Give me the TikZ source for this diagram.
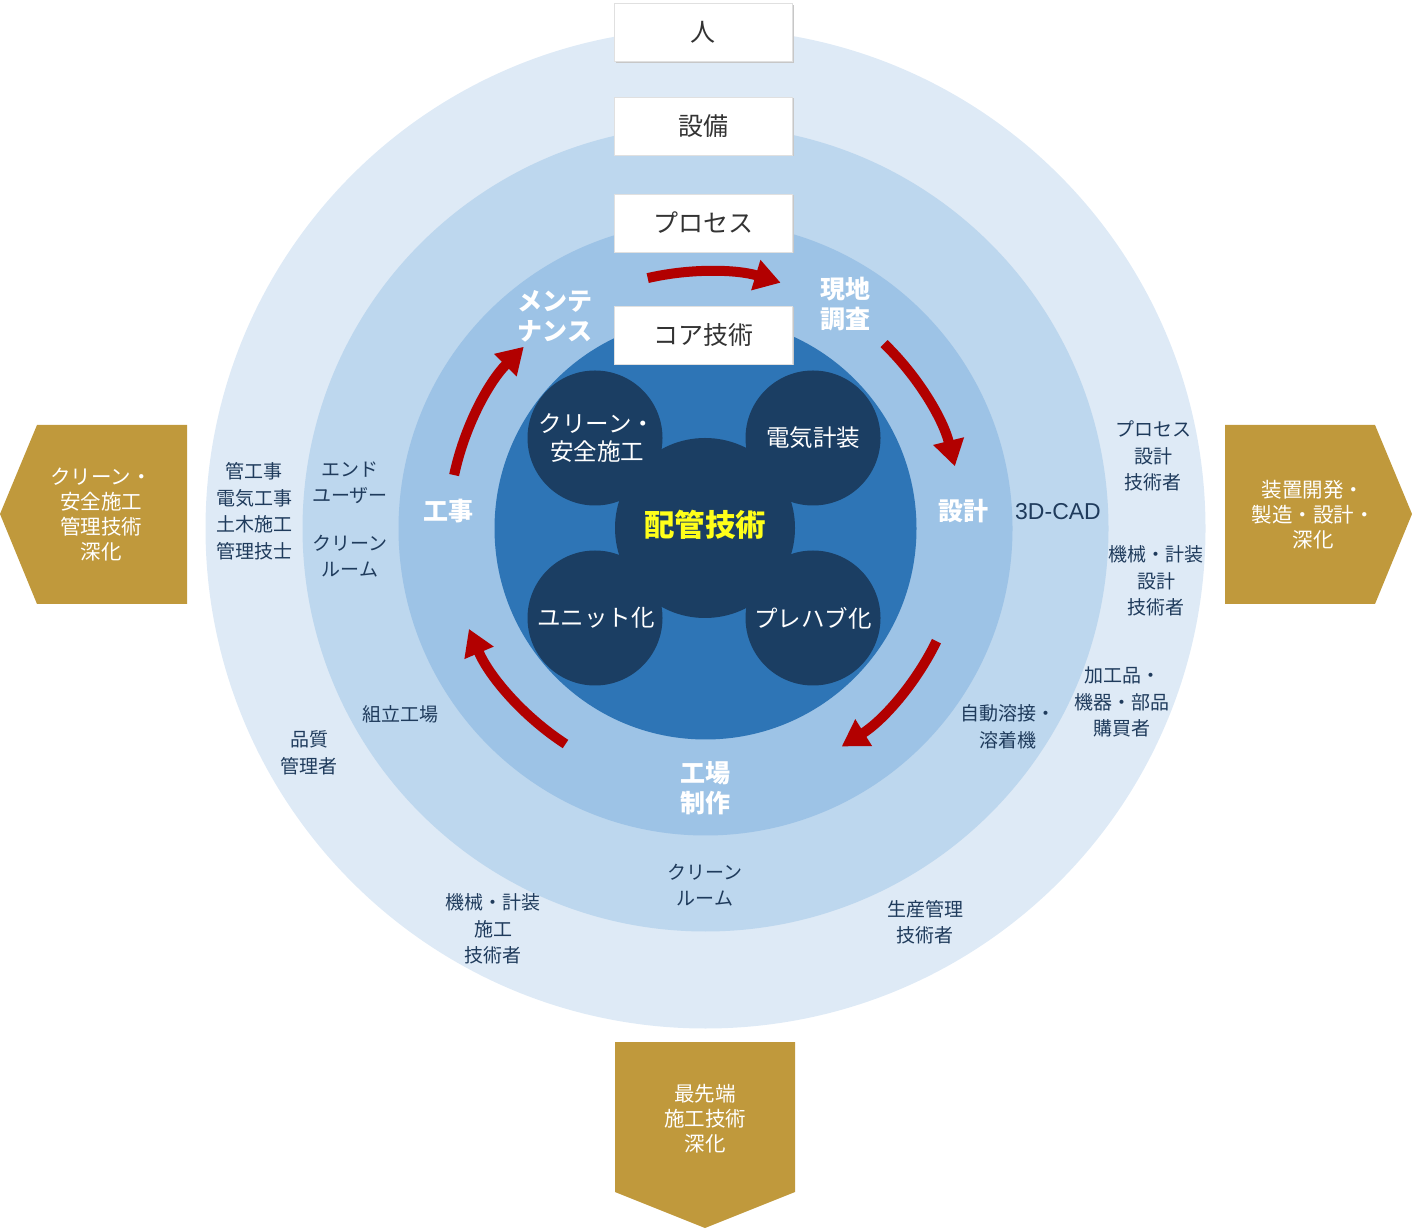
\documentclass[tikz,border=0pt]{standalone}
\usepackage{fontspec}
\setmainfont{Noto Sans CJK JP}
\newfontfamily\cadfont{Liberation Sans}
\usetikzlibrary{arrows.meta}
\definecolor{ringA}{HTML}{DEEAF6}
\definecolor{ringB}{HTML}{BDD7EE}
\definecolor{ringC}{HTML}{9DC3E6}
\definecolor{ringD}{HTML}{2E75B6}
\definecolor{navy}{HTML}{1B3E63}
\definecolor{labc}{HTML}{1F3B5C}
\definecolor{gold}{HTML}{C0993C}
\definecolor{arrred}{HTML}{B20000}
\definecolor{boxtext}{HTML}{333333}
\definecolor{hiyel}{HTML}{FFFF1A}
\begin{document}
\begin{tikzpicture}[x=1pt,y=1pt,
  lab/.style={align=center,text=labc,inner sep=0pt,font=\fontsize{19}{26.5}\selectfont},
  inlab/.style={align=center,text=white,inner sep=0pt,font=\fontsize{25}{30}\selectfont\bfseries},
  bloblab/.style={align=center,text=white,inner sep=0pt,font=\fontsize{23.5}{28}\selectfont},
  goldlab/.style={align=center,text=white,inner sep=0pt,font=\fontsize{20.5}{25}\selectfont},
  wbox/.style={fill=white,draw=black!12,line width=0.8pt,minimum width=178pt,minimum height=58pt,inner sep=0pt,text=boxtext,font=\fontsize{25}{28}\selectfont},
  wshadow/.style={fill=black!22,minimum width=178pt,minimum height=58pt,inner sep=0pt},
  redarr/.style={draw=arrred,line width=10pt,-{Triangle[length=26pt,width=30pt]}}
]
\useasboundingbox (0,0) rectangle (1412,1229);
\coordinate (c) at (705.5,700.5);
% rings
\fill[ringA] (c) circle[radius=500pt];
\fill[ringB] (c) circle[radius=403pt];
\fill[ringC] (c) circle[radius=307pt];
\fill[ringD] (c) circle[radius=211pt];
% navy blobs
\fill[navy] (595,791) circle[radius=67.5pt];
\fill[navy] (813,791) circle[radius=67.5pt];
\fill[navy] (595,611) circle[radius=67.5pt];
\fill[navy] (813,611) circle[radius=67.5pt];
\fill[navy] (705,701) circle[radius=90pt];
% white boxes with soft shadow
\node[wshadow] (s1) at (704.5,1195) {};
\node[wshadow] (s2) at (704.5,1101.5) {};
\node[wshadow] (s3) at (704.5,1004.5) {};
\node[wshadow] (s4) at (704.5,892.5) {};
\node[wbox] (hito) at (703,1196.5) {人};
\node[wbox] (setsubi) at (703,1103) {設備};
\node[wbox] (process) at (703,1006) {プロセス};
\node[wbox] (core) at (703,894) {コア技術};
% red cycle arrows
\draw[redarr] (c) ++(103:257pt) arc[start angle=103,end angle=73,radius=257pt];
\draw[redarr] (c) ++(46:257pt) arc[start angle=46,end angle=14,radius=257pt];
\draw[redarr] (c) ++(-26:257pt) arc[start angle=-26,end angle=-58,radius=257pt];
\draw[redarr] (c) ++(-123:257pt) arc[start angle=-123,end angle=-157,radius=257pt];
\draw[redarr] (c) ++(168:257pt) arc[start angle=168,end angle=135,radius=257pt];
% inner labels
\node[inlab] (genchi) at (845,925) {現地\\調査};
\node[inlab] (sekkei) at (963,718) {設計};
\node[inlab] (kojo) at (705,441) {工場\\制作};
\node[inlab] (koji) at (448,718) {工事};
\node[inlab] (maint) at (555,913) {メンテ\\ナンス};
% blob labels
\node[bloblab] (b1) at (597,791) {クリーン・\\安全施工};
\node[bloblab] (b2) at (813,791) {電気計装};
\node[bloblab] (b3) at (596,611) {ユニット化};
\node[bloblab] (b4) at (813,611) {プレハブ化};
\node[align=center,text=hiyel,inner sep=0pt,font=\fontsize{30.5}{34}\selectfont\bfseries] (haikan) at (705,704) {配管技術};
% second ring labels
\node[lab,font=\fontsize{23}{26}\cadfont] (cad) at (1058,717) {3D-CAD};
\node[lab] (jido) at (1008,502) {自動溶接・\\溶着機};
\node[lab] (cr2) at (705,344) {クリーン\\ルーム};
\node[lab] (kumi) at (400,515) {組立工場};
\node[lab] (end) at (350,746) {エンド\\ユーザー};
\node[lab] (cr1) at (350,673) {クリーン\\ルーム};
% outer ring labels
\node[lab] (o1) at (1153,773) {プロセス\\設計\\技術者};
\node[lab] (o2) at (1156,648) {機械・計装\\設計\\技術者};
\node[lab] (o3) at (1122,527) {加工品・\\機器・部品\\購買者};
\node[lab] (o4) at (925,307) {生産管理\\技術者};
\node[lab] (o5) at (493,300) {機械・計装\\施工\\技術者};
\node[lab] (o6) at (309,476) {品質\\管理者};
\node[lab] (o7) at (254,718) {管工事\\電気工事\\土木施工\\管理技士};
% gold shapes
\fill[gold] (0,715) -- (37,804) -- (187,804) -- (187,625) -- (37,625) -- cycle;
\fill[gold] (1225,804) -- (1375,804) -- (1412,715) -- (1375,625) -- (1225,625) -- cycle;
\fill[gold] (615,187) -- (795,187) -- (795,37) -- (705,1) -- (615,37) -- cycle;
\node[goldlab] (g1) at (101,714.5) {クリーン・\\安全施工\\管理技術\\深化};
\node[goldlab] (g2) at (1313,714) {装置開発・\\製造・設計・\\深化};
\node[goldlab] (g3) at (705,110) {最先端\\施工技術\\深化};
\end{tikzpicture}
\end{document}
